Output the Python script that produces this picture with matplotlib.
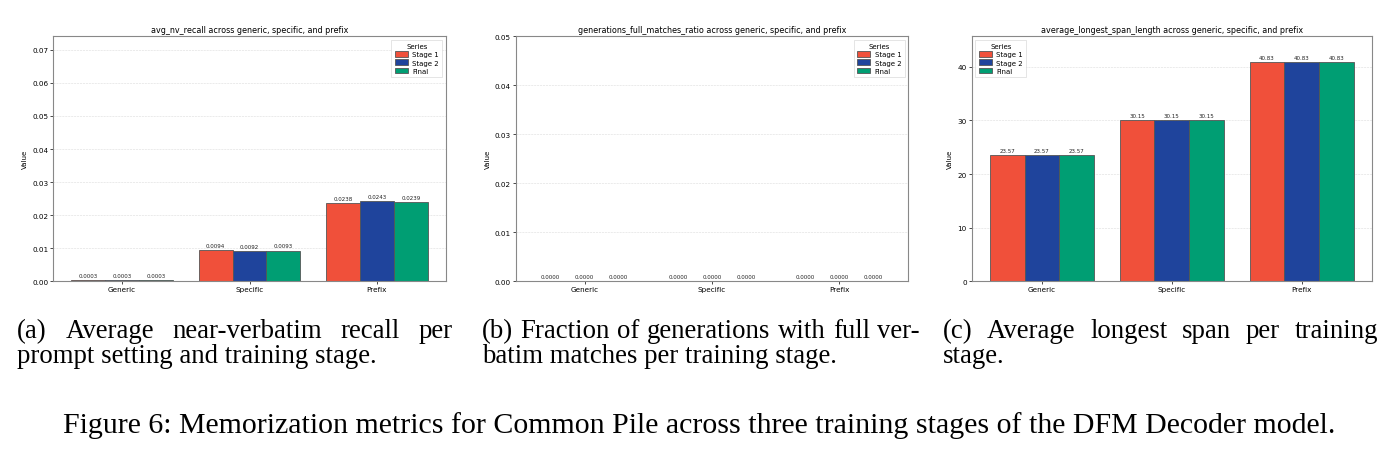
import matplotlib
matplotlib.use('Agg')
import matplotlib.pyplot as plt
import numpy as np

W, H = 1398, 456

categories = ['Generic', 'Specific', 'Prefix']
series = ['Stage 1', 'Stage 2', 'Final']
colors = ['#F0503A', '#1F449C', '#009E73']

# avg_nv_recall
recall_stage1 = [0.0003, 0.0094, 0.0238]
recall_stage2 = [0.0003, 0.0092, 0.0243]
recall_final = [0.0003, 0.0093, 0.0239]

# generations_full_matches_ratio
full_stage1 = [0.0, 0.0, 0.0]
full_stage2 = [0.0, 0.0, 0.0]
full_final = [0.0, 0.0, 0.0]

# average_longest_span_length
span_stage1 = [23.57, 30.15, 40.83]
span_stage2 = [23.57, 30.15, 40.83]
span_final = [23.57, 30.15, 40.83]

panels = [
    ('avg_nv_recall', [recall_stage1, recall_stage2, recall_final], '{:.4f}', 0.0741, 'upper right'),
    ('generations_full_matches_ratio', [full_stage1, full_stage2, full_final], '{:.4f}', 0.05, 'upper right'),
    ('average_longest_span_length', [span_stage1, span_stage2, span_final], '{:.2f}', 45.7, 'upper left'),
]

# axes boxes in pixels: left, right
boxes = [(53.3, 445.7), (515.7, 908.3), (971.7, 1371.7)]
top_px, bot_px = 37.3, 282.3

fig = plt.figure(figsize=(W / 100, H / 100), dpi=100)

for (name, vals, fmt, ymax, loc), (l, r) in zip(panels, boxes):
    ax = fig.add_axes([l / W, 1 - bot_px / H, (r - l) / W, (bot_px - top_px) / H])
    x = np.arange(len(categories))
    w = 0.8 / 3
    for i, (s, v) in enumerate(zip(series, vals)):
        bars = ax.bar(x + (i - 1) * w, v, w, label=s, color=colors[i],
                      edgecolor='#555555', linewidth=0.6)
        for b, val in zip(bars, v):
            ax.annotate(fmt.format(val), (b.get_x() + b.get_width() / 2, b.get_height()),
                        xytext=(0, 1.5), textcoords='offset points',
                        ha='center', va='bottom', fontsize=4.0, color='#222222')
    ax.set_ylim(0, ymax)
    ax.set_xticks(x)
    ax.set_xticklabels(categories)
    ax.set_ylabel('Value', fontsize=5.0, labelpad=3)
    ax.set_title(name + ' across generic, specific, and prefix', fontsize=5.8, pad=3)
    ax.tick_params(labelsize=5.2, length=2, width=0.5, pad=1.5)
    ax.yaxis.grid(True, linestyle='--', linewidth=0.4, color='#cccccc', alpha=0.7)
    ax.set_axisbelow(True)
    for sp in ax.spines.values():
        sp.set_color('#888888')
        sp.set_linewidth(0.8)
    leg = ax.legend(title='Series', loc=loc, fontsize=5.0, title_fontsize=5.0,
                    handlelength=1.9, handleheight=0.8, borderpad=0.5, labelspacing=0.3,
                    handletextpad=0.6, framealpha=0.9, fancybox=False)
    leg.get_frame().set_linewidth(0.4)
    leg.get_frame().set_edgecolor('#cccccc')

renderer = fig.canvas.get_renderer()
serif = 'Liberation Serif'


def justify(words, x0, x1, y, size):
    texts = [fig.text(0, 1 - y / H, wd, fontsize=size, family=serif, va='baseline') for wd in words]
    widths = [t.get_window_extent(renderer).width for t in texts]
    gap = (x1 - x0 - sum(widths)) / (len(words) - 1)
    xpos = x0
    for t, wd in zip(texts, widths):
        t.set_x(xpos / W)
        xpos += wd + gap


def left(text, x0, y, size):
    fig.text(x0 / W, 1 - y / H, text, fontsize=size, family=serif, va='baseline')


sub = 19.3
justify('(a) Average near-verbatim recall per'.split(), 17, 453, 338, sub)
left('prompt setting and training stage.', 17, 363, sub)
justify('(b) Fraction of generations with full ver-'.split(), 482, 920, 338, sub)
left('batim matches per training stage.', 482, 363, sub)
justify('(c) Average longest span per training'.split(), 943, 1378, 338, sub)
left('stage.', 943, 363, sub)

fig.text(0.5, 1 - 433 / H,
         'Figure 6: Memorization metrics for Common Pile across three training stages of the DFM Decoder model.',
         fontsize=21.5, family=serif, ha='center', va='baseline')

fig.savefig('out.png', dpi=100)
